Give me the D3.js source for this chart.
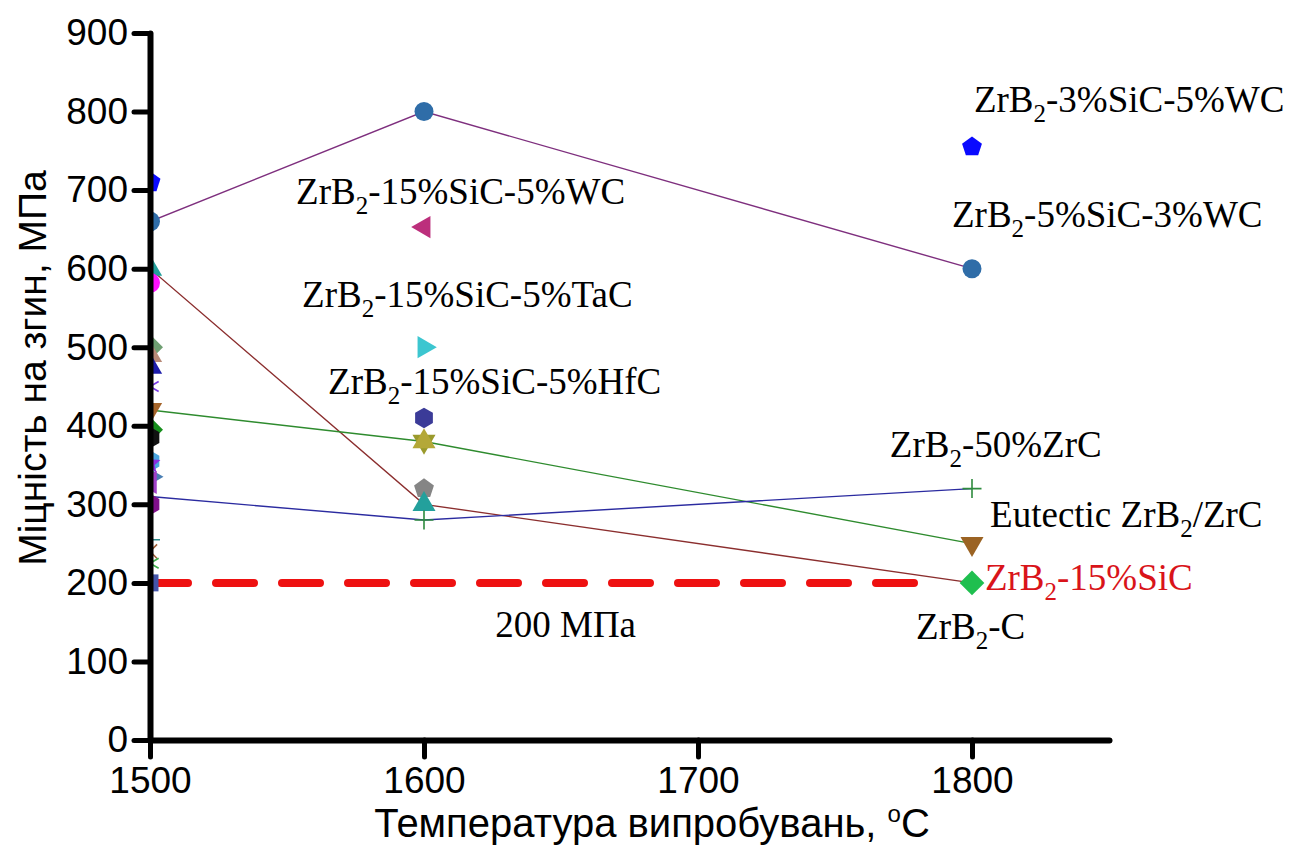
<!DOCTYPE html>
<html>
<head>
<meta charset="utf-8">
<script src="https://cdn.jsdelivr.net/npm/d3@7"></script>
<style>
  body { margin: 0; background: #fff; }
  svg { display: block; }
</style>
</head>
<body>
<svg id="chart" width="1292" height="849"></svg>
<script>
// Flexural strength of ZrB2-based ceramics against test temperature

const temperatures = [1500, 1600, 1800];

// Connected series: one value per test temperature, MPa
const strength5SiC3WC = [660, 800, 600];
const strengthZrB2C = [600, 300, 200];
const strengthEutectic = [420, 380, 250];
const strength50ZrC = [310, 280, 320];

// Individual measurements at each temperature, MPa
const values1500 = [710, 660, 600, 582, 500, 490, 475, 450, 420, 395, 385, 355, 352, 335, 328, 300, 255, 240, 225, 200];
const values1600 = [800, 653, 500, 410, 380, 380, 320, 300, 280];
const values1800 = [755, 600, 320, 250, 200];

// Reference strength level
const thresholdValue = 200;
const thresholdRange = [1500, 1780];

// Axis ticks
const yTickValues = [0, 100, 200, 300, 400, 500, 600, 700, 800, 900];
const yMinorTicks = [50, 150, 250, 350, 450, 550, 650, 750, 850];
const xTickValues = [1500, 1600, 1700, 1800];
const xMinorTicks = [1550, 1650, 1750, 1850];

// Annotation texts ("B2" in ZrB2 is written as subscript)
const labelTexts = [
  "ZrB2-3%SiC-5%WC",
  "ZrB2-5%SiC-3%WC",
  "ZrB2-15%SiC-5%WC",
  "ZrB2-15%SiC-5%TaC",
  "ZrB2-15%SiC-5%HfC",
  "ZrB2-50%ZrC",
  "Eutectic ZrB2/ZrC",
  "ZrB2-15%SiC",
  "200 МПа",
  "ZrB2-C"
];

// ---------- presentation ----------
const svg = d3.select("#chart");

const x = d3.scaleLinear().domain([1500, 1850]).range([150, 1109]);
const y = d3.scaleLinear().domain([0, 900]).range([740, 33]);

const SANS = "Arial, 'Liberation Sans', sans-serif";
const SERIF = "'Times New Roman', 'Liberation Serif', serif";

// Marker shapes
function polygon(n, rot, k) {
  return {
    draw(ctx, size) {
      const r = Math.sqrt(size) / 2 * k;
      for (let i = 0; i < n; i++) {
        const a = rot + i * 2 * Math.PI / n;
        const px = r * Math.sin(a), py = -r * Math.cos(a);
        if (i === 0) ctx.moveTo(px, py); else ctx.lineTo(px, py);
      }
      ctx.closePath();
    }
  };
}
function spokes(n, rot) {
  return {
    draw(ctx, size) {
      const r = Math.sqrt(size) / 2;
      for (let i = 0; i < n; i++) {
        const a = rot + i * Math.PI / n;
        ctx.moveTo(r * Math.sin(a), -r * Math.cos(a));
        ctx.lineTo(-r * Math.sin(a), r * Math.cos(a));
      }
    }
  };
}
const circleShape = {
  draw(ctx, size) {
    const r = Math.sqrt(size) / 2;
    ctx.moveTo(r, 0);
    ctx.arc(0, 0, r, 0, 2 * Math.PI);
  }
};
const starShape = {
  draw(ctx, size) {
    const r = Math.sqrt(size) / 2 * 1.1, ri = r * 0.45;
    for (let i = 0; i < 10; i++) {
      const a = i * Math.PI / 5, rr = i % 2 ? ri : r;
      const px = rr * Math.sin(a), py = -rr * Math.cos(a);
      if (i === 0) ctx.moveTo(px, py); else ctx.lineTo(px, py);
    }
    ctx.closePath();
  }
};
const SHAPES = {
  circle: { type: circleShape, filled: true },
  pentagon: { type: polygon(5, 0, 1.1), filled: true },
  hexagon: { type: polygon(6, 0, 1.08), filled: true },
  diamond: { type: polygon(4, 0, 1.3), filled: true },
  square: { type: polygon(4, Math.PI / 4, 1.2), filled: true },
  triUp: { type: polygon(3, 0, 1.4), filled: true },
  triDown: { type: polygon(3, Math.PI, 1.4), filled: true },
  triLeft: { type: polygon(3, -Math.PI / 2, 1.35), filled: true },
  triRight: { type: polygon(3, Math.PI / 2, 1.35), filled: true },
  star: { type: starShape, filled: true },
  plus: { type: spokes(2, 0), filled: false },
  cross: { type: spokes(2, Math.PI / 4), filled: false },
  asterisk: { type: spokes(3, 0), filled: false }
};

// Marker styles, parallel to the value arrays
const style1500 = [
  ["pentagon", "#0a0aff"], ["circle", "#2f6da8"], ["triUp", "#23a09c"], ["circle", "#ff10ff"],
  ["diamond", "#6f9f72"], ["triUp", "#b88a78"], ["triUp", "#1c1caa"], ["asterisk", "#7a3be6"],
  ["triDown", "#a5642a"], ["diamond", "#168f1c"], ["hexagon", "#111111"], ["hexagon", "#4aa6e0"],
  ["star", "#8a2be2"], ["triRight", "#4a7fb4"], ["triLeft", "#a040c8"], ["hexagon", "#80108a"],
  ["plus", "#2e8b8b"], ["cross", "#a0603a"], ["asterisk", "#3cb04a"], ["square", "#4455aa"]
];
const style1600 = [
  ["circle", "#2f6da8"], ["triLeft", "#bc2f7c"], ["triRight", "#3cc6d0"], ["hexagon", "#3b3b98"],
  ["triDown", "#9a9a2c"], ["triUp", "#b4a838"], ["pentagon", "#858585"], ["triUp", "#23a09c"],
  ["plus", "#2e8b3e"]
];
const style1800 = [
  ["pentagon", "#0a0aff"], ["circle", "#2f6da8"], ["plus", "#2e8b3e"], ["triDown", "#9b6323"],
  ["diamond", "#1fbf4f"]
];

const lineSeries = [
  { values: strength5SiC3WC, color: "#7e2f7e" },
  { values: strengthZrB2C, color: "#8b2e2e" },
  { values: strengthEutectic, color: "#2e8b2e" },
  { values: strength50ZrC, color: "#2b2ba0" }
];

// Clip marks to the plotting area
svg.append("defs").append("clipPath").attr("id", "plot-clip")
  .append("rect").attr("x", x(1500)).attr("y", 0)
  .attr("width", x(1850) - x(1500) + 20).attr("height", y(0));

const plot = svg.append("g").attr("clip-path", "url(#plot-clip)");

// Threshold line
plot.append("line")
  .attr("x1", x(thresholdRange[0])).attr("x2", x(thresholdRange[1]))
  .attr("y1", y(thresholdValue)).attr("y2", y(thresholdValue))
  .attr("stroke", "#ee1111").attr("stroke-width", 8)
  .attr("stroke-dasharray", "38 28").attr("stroke-linecap", "round");

// Connecting lines
const line = d3.line().x((d, i) => x(temperatures[i])).y(d => y(d));
plot.selectAll("path.series").data(lineSeries).join("path")
  .attr("class", "series")
  .attr("d", d => line(d.values))
  .attr("fill", "none").attr("stroke", d => d.color).attr("stroke-width", 1.4);

// Markers
function drawMarkers(t, values, styles, size) {
  const pts = values.map((v, i) => ({ t, v, shape: styles[i][0], color: styles[i][1] }));
  plot.append("g").selectAll("path").data(pts).join("path")
    .attr("transform", d => `translate(${x(d.t)},${y(d.v)})`)
    .attr("d", d => d3.symbol().type(SHAPES[d.shape].type).size(size * size)())
    .attr("fill", d => SHAPES[d.shape].filled ? d.color : "none")
    .attr("stroke", d => SHAPES[d.shape].filled ? "none" : d.color)
    .attr("stroke-width", 1.6);
}
drawMarkers(1500, values1500, style1500, 20);
drawMarkers(1600, values1600, style1600, 19);
drawMarkers(1800, values1800, style1800, 19);

// Axes
const yAxis = svg.append("g").attr("transform", `translate(${x(1500)},0)`);
yAxis.call(d3.axisLeft(y).tickValues(yMinorTicks).tickSize(8).tickSizeOuter(0).tickFormat(""));
yAxis.call(d3.axisLeft(y).tickValues(yTickValues).tickSize(16).tickSizeOuter(0).tickPadding(6));

const xAxis = svg.append("g").attr("transform", `translate(0,${y(0)})`);
xAxis.call(d3.axisBottom(x).tickValues(xMinorTicks).tickSize(10).tickSizeOuter(0).tickFormat(""));
xAxis.call(d3.axisBottom(x).tickValues(xTickValues).tickSize(17).tickSizeOuter(0).tickPadding(10)
  .tickFormat(d3.format("d")));

svg.selectAll(".domain").attr("stroke", "#000").attr("stroke-width", 6).attr("stroke-linecap", "round");
svg.selectAll(".tick line").attr("stroke", "#000").attr("stroke-width", 5).attr("stroke-linecap", "round");
svg.selectAll(".tick text").attr("font-family", SANS).attr("font-size", 37).attr("fill", "#000");

// Axis titles
svg.append("text")
  .attr("transform", `translate(46,368) rotate(-90)`)
  .attr("text-anchor", "middle")
  .attr("font-family", SANS).attr("font-size", 39)
  .text("Міцність на згин, МПа");

const xTitle = svg.append("text")
  .attr("x", 652).attr("y", 837)
  .attr("text-anchor", "middle")
  .attr("font-family", SANS).attr("font-size", 40);
xTitle.append("tspan").text("Температура випробувань, ");
xTitle.append("tspan").attr("font-size", 24).attr("dy", -15).text("o");
xTitle.append("tspan").attr("dy", 15).text("C");

// Annotation positions in data units (temperature, MPa) at text baseline start
const labelAnchors = [
  [1800.7, 800], [1792.7, 653], [1553.3, 682], [1555.5, 551], [1565, 440],
  [1770, 360], [1806.6, 271], [1804.7, 191], [1626, 131], [1779.6, 128]
];
const labelColors = ["#000", "#000", "#000", "#000", "#000", "#000", "#000", "#d9141a", "#000", "#000"];

labelTexts.forEach((txt, i) => {
  const t = svg.append("text")
    .attr("x", x(labelAnchors[i][0])).attr("y", y(labelAnchors[i][1]))
    .attr("font-family", SERIF).attr("font-size", 37).attr("fill", labelColors[i]);
  const parts = txt.split("B2");
  parts.forEach((p, j) => {
    if (j > 0) {
      t.append("tspan").text("B");
      t.append("tspan").attr("font-size", 25).attr("dy", 10).text("2");
      t.append("tspan").attr("dy", -10).text(p);
    } else {
      t.append("tspan").text(p);
    }
  });
});
</script>
</body>
</html>
